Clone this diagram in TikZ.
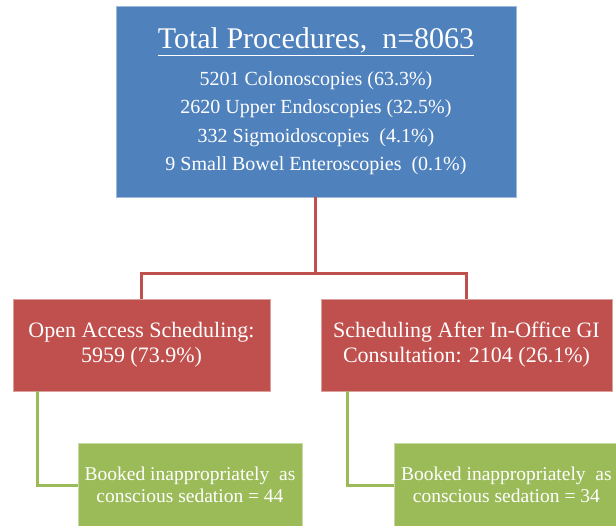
\documentclass[tikz,border=0pt]{standalone}
\usepackage{fontspec}
\setmainfont{Liberation Serif}
\definecolor{bluefill}{HTML}{4F81BD}
\definecolor{redfill}{HTML}{C0504D}
\definecolor{greenfill}{HTML}{9BBB59}
\tikzset{
  box/.style={rectangle, inner sep=0pt, text=white, align=center, line width=0.8pt},
  bluebox/.style={box, fill=bluefill, draw=bluefill!55!white, minimum width=400pt, minimum height=191pt,
     font=\fontsize{20}{28.5}\selectfont},
  redbox/.style={box, fill=redfill, draw=redfill!55!white, minimum height=92pt, font=\fontsize{22}{25}\selectfont},
  greenbox/.style={box, fill=greenfill, draw=greenfill!55!white, minimum height=84pt, font=\fontsize{19.5}{21.5}\selectfont},
  redline/.style={draw=redfill, line width=3pt},
  greenline/.style={draw=greenfill, line width=3pt}
}
\begin{document}
\begin{tikzpicture}[x=1pt,y=-1pt]
\useasboundingbox[fill=white] (0,0) rectangle (616,525);
\clip (0,0) rectangle (616,525);
\node[bluebox] (top) at (316,101.5) {{\fontsize{30}{30}\selectfont\underline{Total Procedures,\ \ n=8063}}\\[8pt]
5201 Colonoscopies (63.3\%)\\
2620 Upper Endoscopies (32.5\%)\\
332 Sigmoidoscopies\ \ (4.1\%)\\
9 Small Bowel Enteroscopies\ \ (0.1\%)};
\node[redbox, minimum width=257pt] (open) at (141.5,345) {Open Access Scheduling:\\5959 (73.9\%)};
\node[redbox, minimum width=291pt] (after) at (466.5,345) {Scheduling After In-Office GI\\Consultation: 2104 (26.1\%)};
\node[greenbox, minimum width=224pt] (gl) at (190,485) {Booked inappropriately\ \ as\\conscious sedation = 44};
\node[greenbox, minimum width=240pt, anchor=west] (gr) at (394,485) {\hspace*{-16pt}Booked inappropriately\ \ as\\\hspace*{-16pt}conscious sedation = 34};
\coordinate (mid) at (315,273);
\draw[redline] (top.south -| mid) -- (mid);
\draw[redline] (open.north) |- (mid) -| (after.north);
\draw[greenline] ([xshift=25pt]open.south west) |- (gl.west);
\draw[greenline] ([xshift=27pt]after.south west) |- (gr.west);
\end{tikzpicture}
\end{document}
